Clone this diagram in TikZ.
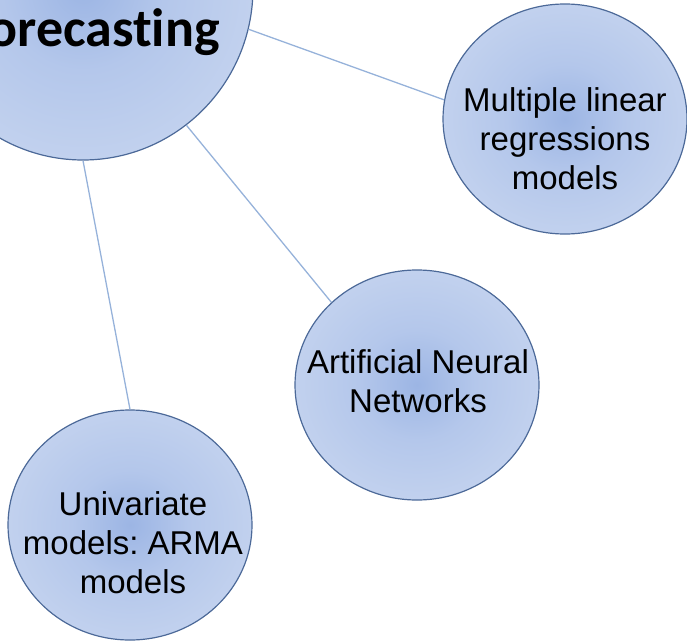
\documentclass[tikz,border=0pt]{standalone}
\usepackage{fontspec}
\usetikzlibrary{shapes.geometric}
\newfontfamily\arialf{Liberation Sans}
\newfontfamily\calibf{Carlito}[Ligatures={NoCommon,NoRare,NoDiscretionary}]
\definecolor{circborder}{RGB}{76,105,152}
\definecolor{linkc}{RGB}{150,178,218}
\definecolor{fillin}{RGB}{156,181,228}
\definecolor{fillmid}{RGB}{180,199,235}
\definecolor{fillout}{RGB}{207,219,241}
\pgfdeclareradialshading{bubbleshade}{\pgfpoint{0bp}{0bp}}{color(0bp)=(fillin); color(12bp)=(fillmid); color(38bp)=(fillout); color(50bp)=(fillout)}
\tikzset{
  bubble/.style={ellipse, draw=circborder, line width=1.2pt, shade, shading=bubbleshade,
    minimum width=244pt, minimum height=230pt, inner sep=0pt},
  link/.style={draw=linkc, line width=1.3pt},
  btext/.style={font=\arialf\frenchspacing\fontsize{33}{39}\selectfont, align=center, inner sep=0pt, text=black},
}
\begin{document}
\begin{tikzpicture}[x=1pt,y=-1pt]
\useasboundingbox (0,0) rectangle (687,642);
\clip (0,0) rectangle (687,642);
\node[bubble, minimum width=340pt, minimum height=344pt] (big) at (83,-12) {};
\node[bubble] (multi) at (565,119) {};
\node[bubble] (ann) at (417,385) {};
\node[bubble] (univ) at (130,525) {};
\node[font=\calibf\bfseries\fontsize{54}{62}\selectfont, anchor=base east, inner sep=0pt] (bigT) at (220,46) {orecasting};
\node[btext] (multiT) at (565,139) {Multiple linear\\regressions\\models};
\node[btext] (annT) at (418,381) {Artificial Neural\\Networks};
\node[btext] (univT) at (133,543) {Univariate\\models: ARMA\\models};
\draw[link] (big.-14) -- (multi.171);
\draw[link] (big.-53) -- (ann.136);
\draw[link] (big.-90) -- (univ.90);
\end{tikzpicture}
\end{document}
